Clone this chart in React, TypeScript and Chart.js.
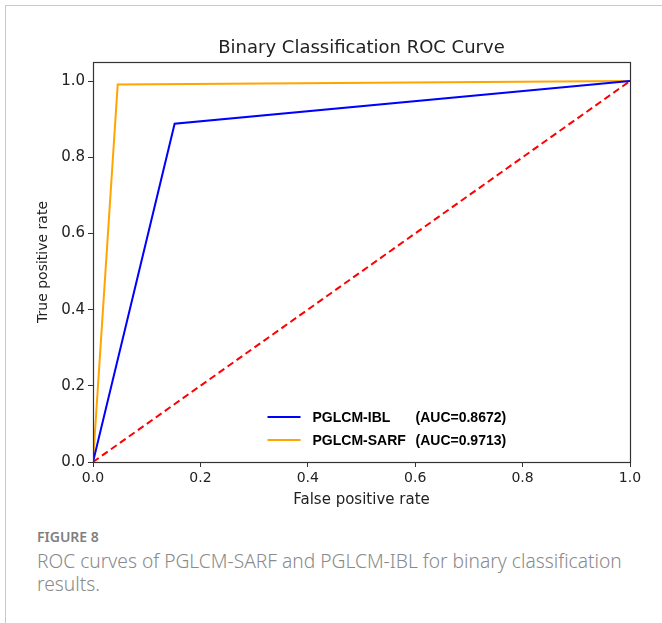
import React, { useEffect, useRef } from "react";
import { Chart, registerables } from "chart.js";

Chart.register(...registerables);

const chartTitle = "Binary Classification ROC Curve";
const seriesNames = ["PGLCM-IBL", "PGLCM-SARF"];
const aucLabels = ["(AUC=0.8672)", "(AUC=0.9713)"];
const seriesColors = ["#0000ff", "#ffa500"];
const iblFpr = [0, 0.152, 1];
const iblTpr = [0, 0.888, 1];
const sarfFpr = [0, 0.046, 1];
const sarfTpr = [0, 0.991, 1];
const diagFpr = [0, 1];
const diagTpr = [0, 1];
const xTicks = [0, 0.2, 0.4, 0.6, 0.8, 1.0];
const yTicks = [0, 0.2, 0.4, 0.6, 0.8, 1.0];

const toPts = (xs: number[], ys: number[]) => xs.map((x, i) => ({ x, y: ys[i] }));

const framePlugin = {
  id: "frame",
  afterDatasetsDraw(chart: any) {
    const { ctx, chartArea } = chart;
    ctx.save();
    ctx.strokeStyle = "#333";
    ctx.lineWidth = 1.2;
    ctx.strokeRect(
      Math.round(chartArea.left) + 0.5,
      Math.round(chartArea.top) + 0.5,
      Math.round(chartArea.right - chartArea.left),
      Math.round(chartArea.bottom - chartArea.top)
    );
    // title centred over the plot area
    ctx.fillStyle = "#222";
    ctx.font = "18px 'DejaVu Sans', sans-serif";
    ctx.textAlign = "center";
    ctx.textBaseline = "alphabetic";
    ctx.fillText(chartTitle, (chartArea.left + chartArea.right) / 2, chartArea.top - 9);
    // legend
    const xs = chart.scales.x;
    const ys = chart.scales.y;
    const lx = xs.getPixelForValue(0.325);
    const rows = [ys.getPixelForValue(0.118), ys.getPixelForValue(0.058)];
    ctx.font = "bold 14px 'Liberation Sans', Arial, sans-serif";
    ctx.textBaseline = "middle";
    ctx.textAlign = "left";
    rows.forEach((ry: number, i: number) => {
      ctx.strokeStyle = seriesColors[i];
      ctx.lineWidth = 2;
      ctx.beginPath();
      ctx.moveTo(lx, ry);
      ctx.lineTo(lx + 33, ry);
      ctx.stroke();
      ctx.fillStyle = "#000";
      ctx.fillText(seriesNames[i], lx + 45, ry + 1);
      ctx.fillText(aucLabels[i], lx + 148, ry + 1);
    });
    ctx.restore();
  },
};

export default function App() {
  const ref = useRef<HTMLCanvasElement | null>(null);
  useEffect(() => {
    if (!ref.current) return;
    const xTickFont = { family: "'DejaVu Sans', sans-serif", size: 14 };
    const yTickFont = { family: "'DejaVu Sans', sans-serif", size: 15 };
    const chart = new Chart(ref.current, {
      type: "scatter",
      data: {
        datasets: [
          {
            label: seriesNames[0],
            data: toPts(iblFpr, iblTpr),
            showLine: true,
            borderColor: seriesColors[0],
            backgroundColor: seriesColors[0],
            borderWidth: 2,
            pointRadius: 0,
          },
          {
            label: seriesNames[1],
            data: toPts(sarfFpr, sarfTpr),
            showLine: true,
            borderColor: seriesColors[1],
            backgroundColor: seriesColors[1],
            borderWidth: 2,
            pointRadius: 0,
          },
          {
            label: "diag",
            data: toPts(diagFpr, diagTpr),
            showLine: true,
            borderColor: "#ff0000",
            borderDash: [7, 4],
            borderWidth: 2,
            pointRadius: 0,
          },
        ],
      },
      options: {
        responsive: false,
        animation: false,
        layout: { padding: { left: 0, right: 32, top: 62, bottom: 0 } },
        plugins: {
          legend: { display: false },
          tooltip: { enabled: false },
          title: { display: false },
        },
        scales: {
          x: {
            type: "linear",
            min: 0,
            max: 1,
            afterBuildTicks: (s: any) => {
              s.ticks = xTicks.map((v) => ({ value: v }));
            },
            afterFit: (s: any) => {
              s.height = 58;
            },
            ticks: {
              color: "#222",
              font: xTickFont,
              padding: 3,
              maxRotation: 0,
              callback: (v: any) => Number(v).toFixed(1),
            },
            grid: { drawOnChartArea: false, drawTicks: true, tickLength: 5, color: "#333" },
            border: { display: true, color: "#333" },
            title: {
              display: true,
              text: "False positive rate",
              color: "#222",
              font: { family: "'DejaVu Sans', sans-serif", size: 15 },
              padding: { top: 0, bottom: 11 },
            },
          },
          y: {
            type: "linear",
            min: 0,
            max: 1.05,
            afterBuildTicks: (s: any) => {
              s.ticks = yTicks.map((v) => ({ value: v }));
            },
            afterFit: (s: any) => {
              s.width = 93;
            },
            ticks: {
              color: "#222",
              font: yTickFont,
              padding: 3,
              callback: (v: any) => Number(v).toFixed(1),
            },
            grid: { drawOnChartArea: false, drawTicks: true, tickLength: 5, color: "#333" },
            border: { display: true, color: "#333" },
            title: {
              display: true,
              text: "True positive rate",
              color: "#222",
              font: { family: "'DejaVu Sans', sans-serif", size: 14 },
              padding: { top: 35, bottom: 0 },
            },
          },
        },
      },
      plugins: [framePlugin],
    } as any);
    return () => chart.destroy();
  }, []);

  return (
    <div style={{ position: "absolute", left: 0, top: 0, width: 662, height: 623, background: "#fff", overflow: "hidden" }}>
      <div style={{ position: "absolute", left: 5, top: 5, right: 0, height: 1, background: "#c8c8c8" }} />
      <div style={{ position: "absolute", left: 5, top: 5, bottom: 0, width: 1, background: "#c8c8c8" }} />
      <canvas ref={ref} width={662} height={520} style={{ position: "absolute", left: 0, top: 0 }} />
      <div
        style={{
          position: "absolute",
          left: 37,
          top: 528,
          fontFamily: "'Noto Sans', sans-serif",
          fontSize: 14,
          lineHeight: "17px",
          fontWeight: 600,
          color: "#808080",
        }}
      >
        FIGURE 8
      </div>
      <div
        style={{
          position: "absolute",
          left: 37,
          top: 549,
          width: 612,
          fontFamily: "'Noto Sans', sans-serif",
          fontSize: 19.2,
          lineHeight: "23px",
          fontWeight: 300,
          color: "#8a8a8a",
        }}
      >
        ROC curves of PGLCM-SARF and PGLCM-IBL for binary classification results.
      </div>
    </div>
  );
}
